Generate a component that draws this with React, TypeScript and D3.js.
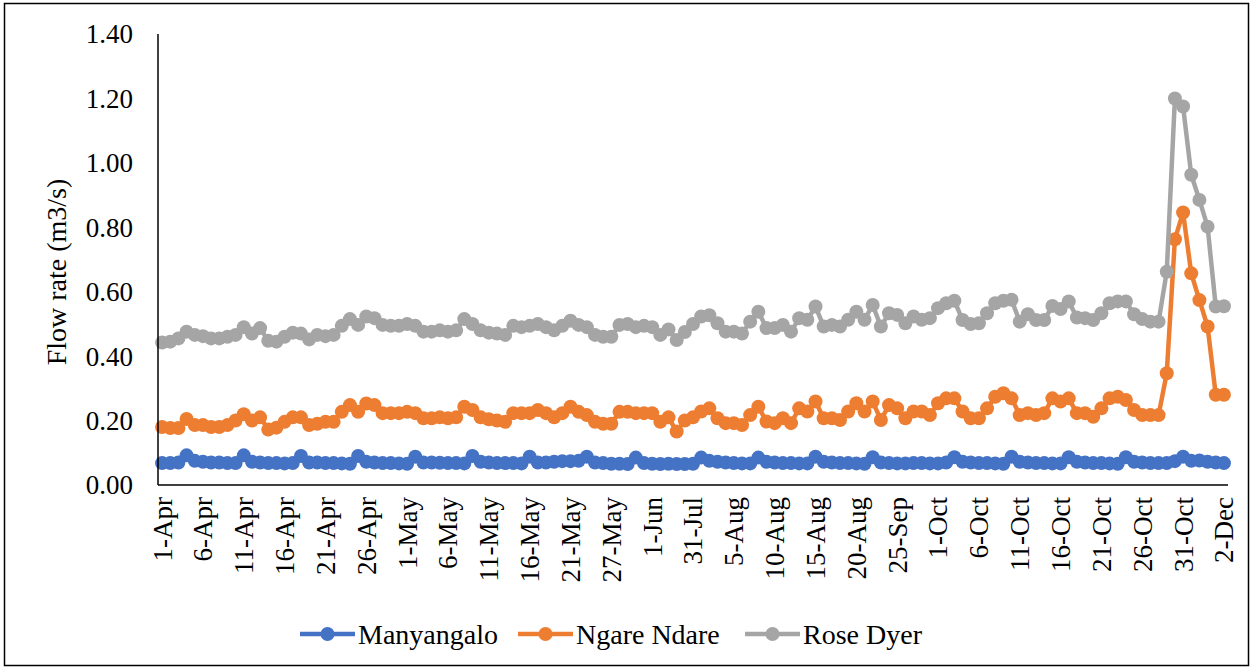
import * as d3 from 'd3';

// daily flow (m3/s)
const manyangalo = [
  0.068, 0.068, 0.07, 0.092, 0.075, 0.072, 0.07, 0.07, 0.068, 0.068,
  0.092, 0.072, 0.07, 0.068, 0.068, 0.067, 0.068, 0.09, 0.07, 0.07,
  0.068, 0.068, 0.067, 0.066, 0.09, 0.072, 0.07, 0.068, 0.068, 0.067,
  0.066, 0.088, 0.07, 0.07, 0.069, 0.068, 0.068, 0.067, 0.09, 0.072,
  0.07, 0.068, 0.068, 0.068, 0.067, 0.088, 0.07, 0.07, 0.072, 0.074,
  0.074, 0.075, 0.088, 0.07, 0.068, 0.066, 0.066, 0.065, 0.085, 0.068,
  0.066, 0.065, 0.066, 0.065, 0.065, 0.066, 0.085, 0.075, 0.072, 0.07,
  0.068, 0.067, 0.067, 0.085, 0.072, 0.07, 0.068, 0.068, 0.067, 0.067,
  0.088, 0.072, 0.07, 0.068, 0.068, 0.067, 0.066, 0.086, 0.07, 0.068,
  0.067, 0.067, 0.068, 0.068, 0.067, 0.067, 0.07, 0.086, 0.072, 0.07,
  0.068, 0.068, 0.067, 0.066, 0.088, 0.072, 0.07, 0.068, 0.068, 0.067,
  0.067, 0.086, 0.072, 0.07, 0.068, 0.068, 0.067, 0.066, 0.086, 0.072,
  0.07, 0.068, 0.068, 0.068, 0.074, 0.088, 0.075, 0.076, 0.072, 0.07,
  0.068,
];

const ngareNdare = [
  0.18, 0.177, 0.177, 0.205, 0.186, 0.186, 0.18, 0.18, 0.186, 0.2,
  0.22, 0.2, 0.21, 0.172, 0.178, 0.196, 0.21, 0.21, 0.186, 0.19,
  0.196, 0.196, 0.227, 0.248, 0.227, 0.253, 0.248, 0.223, 0.223, 0.223,
  0.227, 0.223, 0.207, 0.207, 0.21, 0.207, 0.21, 0.243, 0.233, 0.21,
  0.204, 0.2, 0.196, 0.223, 0.223, 0.223, 0.233, 0.223, 0.21, 0.223,
  0.243, 0.227, 0.217, 0.196, 0.19, 0.19, 0.227, 0.227, 0.223, 0.223,
  0.223, 0.196, 0.21, 0.166, 0.2, 0.21, 0.228, 0.238, 0.207, 0.192,
  0.192, 0.186, 0.217, 0.243, 0.197, 0.192, 0.207, 0.192, 0.238, 0.228,
  0.259, 0.207, 0.207, 0.202, 0.228, 0.254, 0.228, 0.259, 0.202, 0.248,
  0.238, 0.207, 0.228, 0.228, 0.217, 0.254, 0.269, 0.269, 0.228, 0.207,
  0.207, 0.238, 0.274, 0.285, 0.269, 0.217, 0.223, 0.217, 0.223, 0.269,
  0.259, 0.269, 0.223, 0.223, 0.212, 0.238, 0.269, 0.274, 0.264, 0.233,
  0.217, 0.217, 0.217, 0.347, 0.763, 0.846, 0.657, 0.574, 0.492, 0.28,
  0.28,
];

const roseDyer = [
  0.442, 0.445, 0.455, 0.476, 0.466, 0.462, 0.455, 0.455, 0.46, 0.466,
  0.49, 0.47, 0.487, 0.448, 0.445, 0.46, 0.473, 0.47, 0.452, 0.466,
  0.462, 0.466, 0.494, 0.515, 0.497, 0.523, 0.518, 0.497, 0.494, 0.494,
  0.5, 0.494, 0.476, 0.476, 0.48, 0.476, 0.48, 0.515, 0.5, 0.48,
  0.473, 0.47, 0.466, 0.494, 0.49, 0.494, 0.5, 0.49, 0.48, 0.494,
  0.51, 0.497, 0.49, 0.466, 0.46, 0.46, 0.497, 0.5, 0.49, 0.494,
  0.49, 0.466, 0.483, 0.45, 0.475, 0.5, 0.523, 0.527, 0.502, 0.476,
  0.476, 0.47, 0.507, 0.538, 0.487, 0.487, 0.497, 0.476, 0.518, 0.513,
  0.554, 0.492, 0.497, 0.492, 0.513, 0.538, 0.513, 0.559, 0.492, 0.533,
  0.528, 0.502, 0.523, 0.513, 0.518, 0.549, 0.564, 0.572, 0.512, 0.5,
  0.502, 0.533, 0.564, 0.572, 0.575, 0.507, 0.53, 0.512, 0.512, 0.556,
  0.546, 0.57, 0.52, 0.518, 0.512, 0.533, 0.564, 0.57, 0.57, 0.53,
  0.515, 0.507, 0.507, 0.662, 1.2, 1.175, 0.963, 0.885, 0.802, 0.554,
  0.555,
];

// one label every 5th category
const tickLabels = [
  '1-Apr', '6-Apr', '11-Apr', '16-Apr', '21-Apr', '26-Apr', '1-May', '6-May',
  '11-May', '16-May', '21-May', '27-May', '1-Jun', '31-Jul', '5-Aug', '10-Aug',
  '15-Aug', '20-Aug', '25-Sep', '1-Oct', '6-Oct', '11-Oct', '16-Oct', '21-Oct',
  '26-Oct', '31-Oct', '2-Dec',
];
const yTicks = [0, 0.2, 0.4, 0.6, 0.8, 1.0, 1.2, 1.4];

const series = [
  { name: 'Manyangalo', values: manyangalo, color: '#4472C4' },
  { name: 'Ngare Ndare', values: ngareNdare, color: '#ED7D31' },
  { name: 'Rose Dyer', values: roseDyer, color: '#A5A5A5' },
];

const W = 1253;
const H = 669;
const FONT = 'Liberation Serif';

export default function App() {
  const idx = roseDyer.map((_, i) => i);
  const x = d3.scalePoint<number>().domain(idx).range([158, 1228]).padding(0.5);
  const y = d3.scaleLinear().domain([0, 1.4]).range([485, 34]);
  const line = d3
    .line<number>()
    .x((_, i) => x(i)!)
    .y((d) => y(d));

  const legendX = [300, 518, 745];

  return (
    <svg width={W} height={H} fontFamily={FONT} style={{ position: 'absolute', left: 0, top: 0, background: '#fff' }}>
      <style>{`text { font-family: 'Liberation Serif', serif; }`}</style>
      <rect x={4.5} y={3.5} width={1244} height={662} fill="#fff" stroke="#000" strokeWidth={1.5} />

      {/* y axis labels */}
      {yTicks.map((t) => (
        <text key={t} x={133} y={y(t)} dy="0.35em" textAnchor="end" fontSize={27} fill="#000" fontFamily={FONT}>
          {t.toFixed(2)}
        </text>
      ))}
      <text
        transform="translate(56, 272) rotate(-90)"
        dy="0.35em"
        textAnchor="middle"
        fontSize={28}
        fill="#000"
        fontFamily={FONT}
      >
        Flow rate (m3/s)
      </text>

      {/* series */}
      {series.map((s) => (
        <g key={s.name}>
          <path d={line(s.values) ?? ''} fill="none" stroke={s.color} strokeWidth={4.5} strokeLinejoin="round" />
          {s.values.map((v, i) => (
            <circle key={i} cx={x(i)} cy={y(v)} r={7} fill={s.color} />
          ))}
        </g>
      ))}

      {/* axes */}
      <line x1={158} x2={158} y1={34} y2={485} stroke="#000" strokeWidth={1.5} />
      <line x1={158} x2={1228} y1={485} y2={485} stroke="#000" strokeWidth={1.5} />

      {tickLabels.map((lab, k) => (
        <text
          key={lab}
          transform={`translate(${x(k * 5)}, 497) rotate(-90)`}
          dy="0.35em"
          textAnchor="end"
          fontSize={27}
          fill="#000"
          fontFamily={FONT}
        >
          {lab}
        </text>
      ))}

      {/* legend */}
      {series.map((s, k) => (
        <g key={s.name} transform={`translate(${legendX[k]}, 634)`}>
          <line x1={0} x2={55} y1={0} y2={0} stroke={s.color} strokeWidth={4.5} />
          <circle cx={27.5} cy={0} r={7} fill={s.color} />
          <text x={58} y={0} dy="0.35em" fontSize={28} fill="#000" fontFamily={FONT}>
            {s.name}
          </text>
        </g>
      ))}
    </svg>
  );
}
